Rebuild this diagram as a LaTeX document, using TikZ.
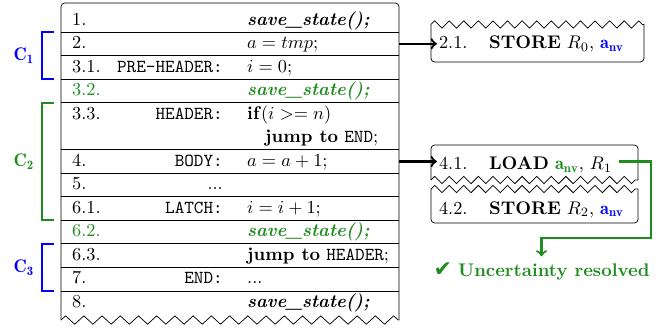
\documentclass[tikz,border=0pt]{standalone}
\usepackage{amsmath, amssymb}
\usepackage{fontspec}
\newfontfamily\dingfont{DejaVu Sans}
\newcommand{\anv}{\mathbf{a}_{\mathbf{nv}}}
\newcommand{\savest}{\textbf{\textit{save\_state();}}}
\definecolor{okgreen}{RGB}{30,140,30}
\usetikzlibrary{calc, decorations.pathmorphing}

\begin{document}
\begin{tikzpicture}[
  num/.style={anchor=base west, inner sep=1pt},
  lbl/.style={anchor=base east, inner sep=1pt, font=\ttfamily},
  code/.style={anchor=base west, inner sep=1pt},
  zz/.style={decorate, decoration={zigzag, segment length=0.28cm, amplitude=0.07cm}},
  brack/.style={very thick},
  link/.style={very thick, ->}
]
\useasboundingbox (0,0) rectangle (12.867,-6.318);

% main table
\draw[rounded corners=2pt] (1.172,-6.146) -- (1.172,-0.058) -- (7.663,-0.058) -- (7.663,-6.146);
\draw[zz, decoration={segment length=0.35cm, amplitude=0.08cm}] (1.172,-6.146) -- (7.663,-6.146);
\draw (1.172,-0.615) -- ++(6.491,0) (1.172,-1.067) -- ++(6.491,0) (1.172,-1.519) -- ++(6.491,0)
      (1.172,-1.971) -- ++(6.491,0) (1.172,-2.875) -- ++(6.491,0) (1.172,-3.327) -- ++(6.491,0)
      (1.172,-3.779) -- ++(6.491,0) (1.172,-4.231) -- ++(6.491,0) (1.172,-4.683) -- ++(6.491,0)
      (1.172,-5.135) -- ++(6.491,0) (1.172,-5.587) -- ++(6.491,0);

\node[num] (n1) at (1.344,-0.481) {1.};
\node[code] (c1) at (4.705,-0.481) {\savest};
\node[num] (n2) at (1.344,-0.933) {2.};
\node[code] (c2) at (4.705,-0.933) {$a = tmp$;};
\node[num] (n31) at (1.344,-1.385) {3.1.};
\node[lbl] (l31) at (4.321,-1.385) {PRE-HEADER:};
\node[code] (c31) at (4.705,-1.385) {$i = 0$;};
\node[num, okgreen] (n32) at (1.344,-1.837) {3.2.};
\node[code, okgreen] (c32) at (4.705,-1.837) {\savest};
\node[num] (n33) at (1.344,-2.289) {3.3.};
\node[lbl] (l33) at (4.321,-2.289) {HEADER:};
\node[code] (c33) at (4.705,-2.289) {\textbf{if}$(i >= n)$};
\node[code] (c33b) at (5.051,-2.741) {\textbf{jump to} \texttt{END};};
\node[num] (n4) at (1.344,-3.193) {4.};
\node[lbl] (l4) at (4.321,-3.193) {BODY:};
\node[code] (c4) at (4.705,-3.193) {$a = a + 1$;};
\node[num] (n5) at (1.344,-3.645) {5.};
\node[lbl, font=\rmfamily] (l5) at (4.321,-3.645) {...};
\node[num] (n61) at (1.344,-4.097) {6.1.};
\node[lbl] (l61) at (4.321,-4.097) {LATCH:};
\node[code] (c61) at (4.705,-4.097) {$i = i + 1$;};
\node[num, okgreen] (n62) at (1.344,-4.549) {6.2.};
\node[code, okgreen] (c62) at (4.705,-4.549) {\savest};
\node[num] (n63) at (1.344,-5.001) {6.3.};
\node[code] (c63) at (4.705,-5.001) {\textbf{jump to} \texttt{HEADER};};
\node[num] (n7) at (1.344,-5.453) {7.};
\node[lbl] (l7) at (4.321,-5.453) {END:};
\node[code] (c7) at (4.705,-5.453) {...};
\node[num] (n8) at (1.344,-5.905) {8.};
\node[code] (c8) at (4.705,-5.905) {\savest};

% brackets
\draw[brack, blue] (1.037,-0.615) -- (0.80,-0.615) -- (0.80,-1.519) -- (1.037,-1.519);
\draw[brack, okgreen] (1.037,-1.971) -- (0.80,-1.971) -- (0.80,-4.231) -- (1.037,-4.231);
\draw[brack, blue] (1.037,-4.683) -- (0.80,-4.683) -- (0.80,-5.587) -- (1.037,-5.587);
\node[blue] (C1) at (0.46,-1.067) {$\mathbf{C_1}$};
\node[okgreen] (C2) at (0.46,-3.101) {$\mathbf{C_2}$};
\node[blue] (C3) at (0.46,-5.135) {$\mathbf{C_3}$};

% boxes on the right
\draw[rounded corners=2pt] (12.368,-0.470) -- (12.368,-1.191) -- (8.277,-1.191) -- (8.277,-0.470);
\draw[zz] (8.277,-0.470) -- (12.368,-0.470);
\node[num] (n21) at (8.39,-0.935) {2.1.};
\node[code] (o21) at (9.35,-0.935) {\textbf{STORE} $R_0$, {\color{blue}$\anv$}};

\draw[rounded corners=2pt] (8.277,-3.457) -- (8.277,-2.785) -- (12.253,-2.785) -- (12.253,-3.457);
\draw[zz] (8.277,-3.457) -- (12.253,-3.457);
\node[num] (n41) at (8.39,-3.251) {4.1.};
\node[code] (o41) at (9.35,-3.251) {\textbf{LOAD} {\color{okgreen}$\anv$}, $R_1$};

\draw[rounded corners=2pt] (12.253,-3.630) -- (12.253,-4.283) -- (8.277,-4.283) -- (8.277,-3.630);
\draw[zz] (8.277,-3.630) -- (12.253,-3.630);
\node[num] (n42) at (8.39,-4.110) {4.2.};
\node[code] (o42) at (9.35,-4.110) {\textbf{STORE} $R_2$, {\color{blue}$\anv$}};

% connectors
\coordinate (s2) at (7.663,-0.841);
\coordinate (s4) at (7.663,-3.101);
\coordinate (bend) at (12.503,-4.571);
\draw[link] (s2) -- (s2 -| n21.west);
\draw[link] (s4) -- (s4 -| n41.west);
\node[okgreen, anchor=base] (res) at (10.40,-5.314) {{\dingfont\fontsize{12}{12}\selectfont ✔} \textbf{Uncertainty resolved}};
\draw[link, okgreen] ($(o41.east |- s4)+(0.1,0)$) -| (bend) -| (res.north);
\end{tikzpicture}
\end{document}
